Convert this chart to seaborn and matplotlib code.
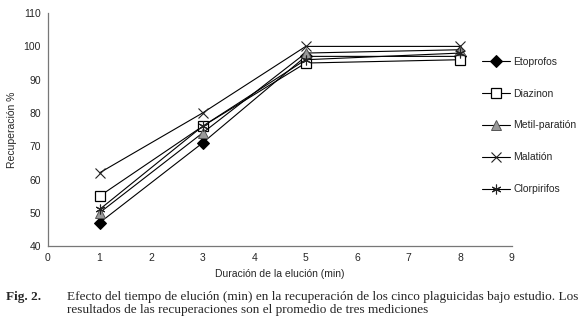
import numpy as np
import pandas as pd
import matplotlib
matplotlib.use("Agg")
import matplotlib.pyplot as plt
import seaborn as sns

# elution time (min) and recovery (%) per pesticide
tiempo = [1, 3, 5, 8]
etoprofos = [47, 71, 97, 97]
diazinon = [55, 76, 95, 96]
metil_paration = [50, 74, 98, 99]
malation = [62, 80, 100, 100]
clorpirifos = [51, 76, 96, 98]

nombres = ["Etoprofos", "Diazinon", "Metil-paratión", "Malatión", "Clorpirifos"]
valores = [etoprofos, diazinon, metil_paration, malation, clorpirifos]

df = pd.DataFrame({
    "tiempo": np.tile(tiempo, len(nombres)),
    "recuperacion": np.concatenate(valores),
    "plaguicida": np.repeat(nombres, len(tiempo)),
})

sns.set_style("white")
plt.rcParams["font.family"] = ["Liberation Sans", "DejaVu Sans"]

estilos = {
    "Etoprofos": dict(marker="D", markersize=6, markerfacecolor="black", markeredgecolor="black"),
    "Diazinon": dict(marker="s", markersize=7, markerfacecolor="white", markeredgecolor="black", markeredgewidth=0.9),
    "Metil-paratión": dict(marker="^", markersize=7, markerfacecolor="#9a9a9a", markeredgecolor="#555555", markeredgewidth=0.7),
    "Malatión": dict(marker="x", markersize=7, markeredgecolor="#222222", markeredgewidth=0.8),
    "Clorpirifos": dict(marker=(6, 2, 0), markersize=7, markeredgecolor="#222222", markeredgewidth=0.8),
}

fig = plt.figure(figsize=(5.83, 3.2), dpi=100)
ax = fig.add_axes([0.0823, 0.231, 0.7957, 0.728])

for nombre in nombres:
    sub = df[df["plaguicida"] == nombre]
    sns.lineplot(data=sub, x="tiempo", y="recuperacion", ax=ax, color="black",
                 linewidth=0.8, label=nombre, **estilos[nombre])

ax.set_xlim(0, 9)
ax.set_ylim(40, 110)
ax.set_xticks(range(0, 10))
ax.set_yticks(range(40, 111, 10))
ax.tick_params(labelsize=7.5, length=2, color="#777777", pad=3)
for s in ["top", "right"]:
    ax.spines[s].set_visible(False)
for s in ["left", "bottom"]:
    ax.spines[s].set_color("#777777")
    ax.spines[s].set_linewidth(0.9)

ax.set_xlabel("Duración de la elución (min)", fontsize=7.5, labelpad=4)
ax.set_ylabel("Recuperación %", fontsize=7.5, labelpad=5)

leg = ax.legend(loc="upper left", bbox_to_anchor=(0.81, 0.852), bbox_transform=fig.transFigure,
                frameon=False, fontsize=7.5, labelspacing=2.1, handlelength=2.7,
                handletextpad=0.35)

fig.text(6 / 583, 1 - 297 / 320, "Fig. 2.", fontsize=9.5, fontweight="bold",
         family="Liberation Serif", va="center")
fig.text(67 / 583, 1 - 297 / 320,
         "Efecto del tiempo de elución (min) en la recuperación de los cinco plaguicidas bajo estudio. Los",
         fontsize=9.5, family="Liberation Serif", va="center")
fig.text(67 / 583, 1 - 310 / 320,
         "resultados de las recuperaciones son el promedio de tres mediciones",
         fontsize=9.5, family="Liberation Serif", va="center")

fig.savefig("out.png", dpi=100)
